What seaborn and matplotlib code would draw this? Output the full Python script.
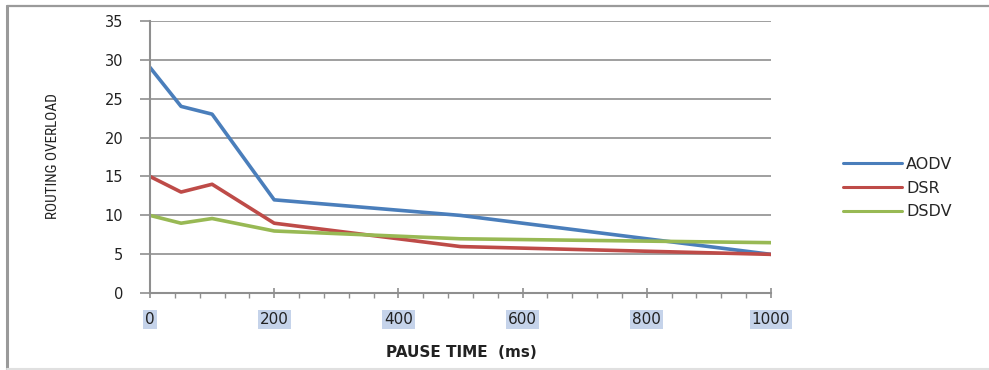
import matplotlib
matplotlib.use("Agg")
import matplotlib.pyplot as plt
import matplotlib.ticker as mticker
from matplotlib.lines import Line2D
from matplotlib import font_manager
import seaborn as sns
import pandas as pd

pause_time = [0, 50, 100, 200, 500, 1000]
aodv = [29, 24, 23, 12, 10, 5]
dsr = [15, 13, 14, 9, 6, 5]
dsdv = [10, 9, 9.6, 8, 7, 6.5]
protocols = ["AODV", "DSR", "DSDV"]
colors = ["#4a7ebb", "#be4b48", "#98b954"]
x_ticks = [0, 200, 400, 600, 800, 1000]
y_ticks = [0, 5, 10, 15, 20, 25, 30, 35]

rows = []
for name, vals in zip(protocols, [aodv, dsr, dsdv]):
    for x, v in zip(pause_time, vals):
        rows.append({"pause": x, "overload": v, "protocol": name})
df = pd.DataFrame(rows)

sns.set_style("white")
plt.rcParams["font.family"] = ["DejaVu Sans"]

# pick a narrow font for the y label if one is installed
names = {f.name for f in font_manager.fontManager.ttflist}
narrow = None
for cand in ["Liberation Sans Narrow", "DejaVu Sans Condensed", "Roboto Condensed", "Open Sans Condensed"]:
    if cand in names:
        narrow = cand
        break

W, H = 989, 370
fig = plt.figure(figsize=(W / 100, H / 100), dpi=100)
ax = fig.add_axes([150 / W, 1 - 293.3 / H, (771 - 150) / W, (293.3 - 20.7) / H])

sns.lineplot(data=df, x="pause", y="overload", hue="protocol",
             hue_order=protocols, palette=colors, linewidth=2.6,
             ax=ax, legend=False, sort=False)

grid_c = "#8f8f8f"
ax.set_xlim(0, 1000)
ax.set_ylim(0, 35)
ax.set_yticks(y_ticks)
ax.set_xticks(x_ticks)
ax.xaxis.set_minor_locator(mticker.MultipleLocator(40))
ax.yaxis.grid(True, color=grid_c, linewidth=1.2)
ax.xaxis.grid(False)
ax.set_axisbelow(True)
for s in ["top", "right"]:
    ax.spines[s].set_visible(False)
for s in ["left", "bottom"]:
    ax.spines[s].set_color(grid_c)
    ax.spines[s].set_linewidth(1.5)

ax.tick_params(axis="y", which="major", left=True, direction="out", length=7.2, width=1.2,
               color=grid_c, pad=12, labelsize=10.5, labelcolor="#222222")
ax.tick_params(axis="x", which="major", bottom=True, direction="inout", length=7, width=1.2,
               color=grid_c, pad=10, labelsize=11, labelcolor="#222222")
ax.tick_params(axis="x", which="minor", bottom=True, direction="out", length=3.5, width=1.0,
               color=grid_c)
ax.set_xticklabels([str(t) for t in x_ticks])
for lbl in ax.get_xticklabels():
    lbl.set_bbox(dict(facecolor="#c5d3ea", edgecolor="none", pad=1.5))

ax.set_xlabel("PAUSE TIME  (ms)", fontsize=11, fontweight="bold", color="#222222")
ax.xaxis.set_label_coords((461 - 150) / (771 - 150), -(345 - 293.3) / (293.3 - 20.7))
if narrow:
    ax.set_ylabel("ROUTING OVERLOAD", fontsize=11, family=[narrow, "DejaVu Sans"], color="#222222")
else:
    ax.set_ylabel("ROUTING OVERLOAD", fontsize=9, color="#222222")
ax.yaxis.set_label_coords(-(150 - 60) / (771 - 150), (293.3 - 156) / (293.3 - 20.7))

handles = [Line2D([0], [0], color=c, linewidth=2.2) for c in colors]
fig.legend(handles, protocols, loc="center left",
           bbox_to_anchor=(843 / W, 1 - 188 / H), frameon=False,
           fontsize=11.5, handlelength=3.7, handletextpad=0.25,
           labelspacing=0.55, borderpad=0, borderaxespad=0)

# outer frame
fig.add_artist(Line2D([7 / W, 7 / W], [1 - 5.5 / H, 1 - 368.5 / H], color="#9a9a9a", lw=2.2,
                      transform=fig.transFigure))
fig.add_artist(Line2D([7 / W, 1.0], [1 - 5.5 / H, 1 - 5.5 / H], color="#9a9a9a", lw=1.6,
                      transform=fig.transFigure))
fig.add_artist(Line2D([7 / W, 1.0], [1 - 369 / H, 1 - 369 / H], color="#e0e0e0", lw=1.5,
                      transform=fig.transFigure))

fig.savefig("out.png", dpi=100)
